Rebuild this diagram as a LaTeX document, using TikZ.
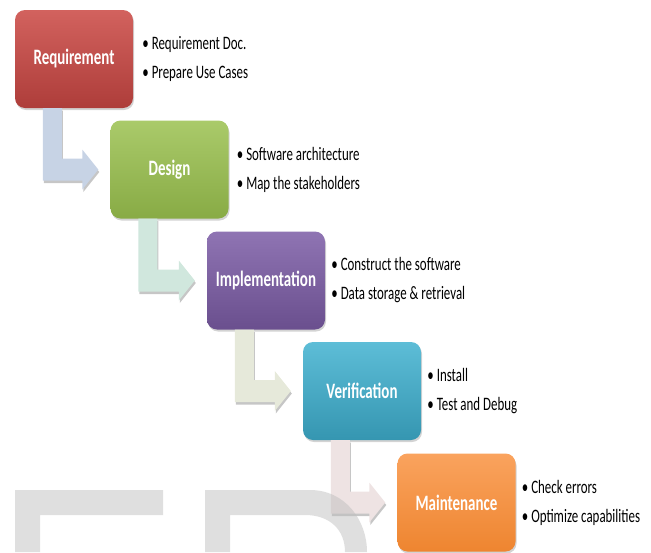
\documentclass[tikz,border=0pt]{standalone}
\usepackage{fontspec}
\setmainfont[FakeStretch=0.68]{Carlito}
\usetikzlibrary{positioning,calc,shadows}

\definecolor{reqtop}{HTML}{D2625E}
\definecolor{reqbot}{HTML}{AE3D3A}
\definecolor{destop}{HTML}{AACA6A}
\definecolor{desbot}{HTML}{88AB45}
\definecolor{imptop}{HTML}{8F74B3}
\definecolor{impbot}{HTML}{6A4F8E}
\definecolor{vertop}{HTML}{5DBDD7}
\definecolor{verbot}{HTML}{3596B1}
\definecolor{mnttop}{HTML}{FAA35E}
\definecolor{mntbot}{HTML}{EE8530}
\definecolor{arrA}{HTML}{C7D3E5}
\definecolor{arrB}{HTML}{D0E7DD}
\definecolor{arrC}{HTML}{E6E9DA}
\definecolor{arrD}{HTML}{EEE3E3}

\tikzset{
  phase/.style={rounded corners=10pt, minimum width=118pt, minimum height=98pt,
    text=white, font=\bfseries\fontsize{22}{26}\selectfont,
    drop shadow={shadow xshift=1pt, shadow yshift=-2pt, opacity=.35}},
  notes/.style={align=left, inner sep=0pt, font=\fontsize{19}{29}\selectfont},
  bentarrow/.style={drop shadow={shadow xshift=1pt, shadow yshift=-2.5pt, opacity=.45}},
  markwm/.style={fill=black!25, opacity=.5},
}

% bent arrow from below one phase into the next
\newcommand\steparrow[3]{%
  \fill[bentarrow, #3] let \p1=(#1.south west), \p2=(#2.west) in
    (\x1+28pt,\y1) -- (\x1+47pt,\y1) -- (\x1+47pt,\y2+11pt) -- (\x2-28pt,\y2+11pt)
    -- (\x2-28pt,\y2+20pt) -- (\x2-12pt,\y2) -- (\x2-28pt,\y2-20pt)
    -- (\x2-28pt,\y2-11pt) -- (\x1+28pt,\y2-11pt) -- cycle;}

\begin{document}
\begin{tikzpicture}[x=1pt, y=-1pt]
  \useasboundingbox (0,0) rectangle (651,552);

  \node[phase, top color=reqtop, bottom color=reqbot] (req) at (74,59) {Requirement};
  \node[phase, top color=destop, bottom color=desbot] (des) at (169.5,169.5) {Design};
  \node[phase, top color=imptop, bottom color=impbot] (imp) at (266,280.5) {Implementation};
  \node[phase, top color=vertop, bottom color=verbot] (ver) at (362,391) {Verification};
  \node[phase, top color=mnttop, bottom color=mntbot] (mnt) at (456.5,502.5) {Maintenance};

  \steparrow{req}{des}{arrA}
  \steparrow{des}{imp}{arrB}
  \steparrow{imp}{ver}{arrC}
  \steparrow{ver}{mnt}{arrD}

  \node[notes, right=9pt of req] (reqn) {\textbullet\ Requirement Doc.\\ \textbullet\ Prepare Use Cases};
  \node[notes, right=8pt of des] (desn) {\textbullet\ Software architecture\\ \textbullet\ Map the stakeholders};
  \node[notes, right=6pt of imp] (impn) {\textbullet\ Construct the software\\ \textbullet\ Data storage \& retrieval};
  \node[notes, right=6pt of ver] (vern) {\textbullet\ Install\\ \textbullet\ Test and Debug};
  \node[notes, right=6pt of mnt] (mntn) {\textbullet\ Check errors\\ \textbullet\ Optimize capabilities};

  % faint letters along the bottom
  \fill[markwm] (15,490) -- (163,490) -- (163,515) -- (40,515) -- (40,552) -- (15,552) -- cycle;
  \fill[markwm] (205,490) -- (310,490) .. controls (345,490) and (367,520) .. (367,552)
    -- (345,552) .. controls (345,530) and (330,515) .. (305,515) -- (230,515) -- (230,552)
    -- (205,552) -- cycle;
\end{tikzpicture}
\end{document}
